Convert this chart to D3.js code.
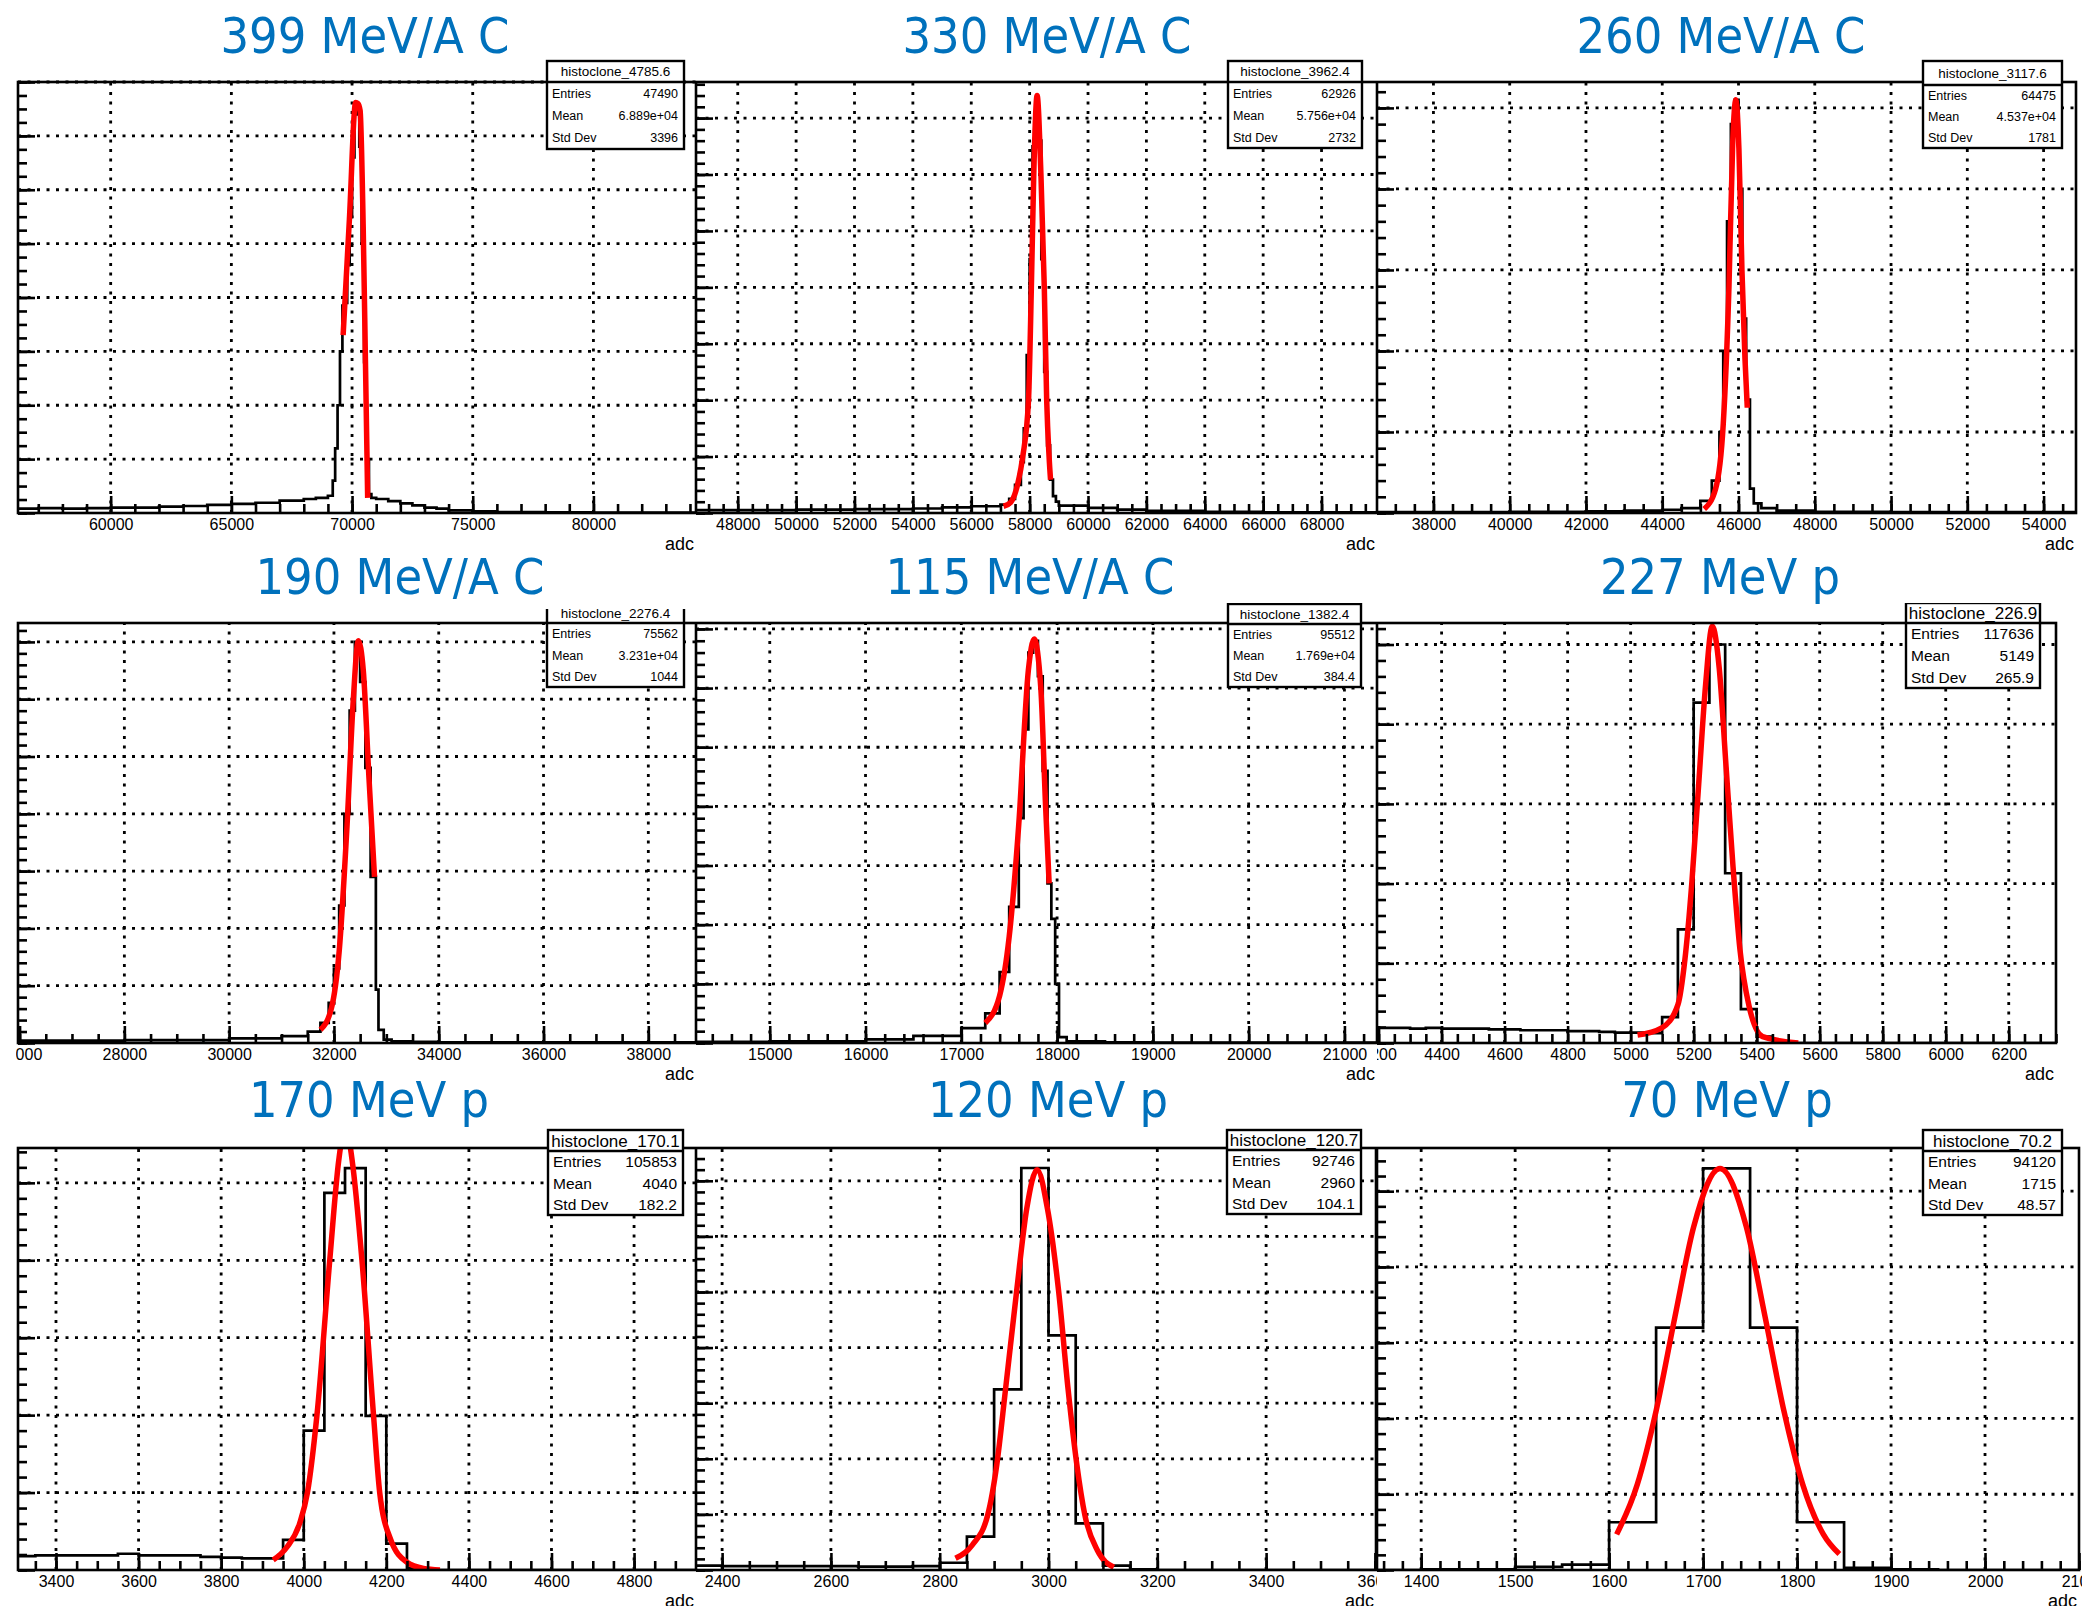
<!DOCTYPE html>
<html>
<head>
<meta charset="utf-8">
<script src="https://cdn.jsdelivr.net/npm/d3@7"></script>
<style>
  body { margin: 0; background: #fff; }
  svg { display: block; }
  .tick text { font-family: "Liberation Sans", Arial, sans-serif; }
</style>
</head>
<body>
<div id="chart"></div>
<script>
// ---------------- data ----------------
const panelTitles = ["399 MeV/A C", "330 MeV/A C", "260 MeV/A C",
                     "190 MeV/A C", "115 MeV/A C", "227 MeV p",
                     "170 MeV p", "120 MeV p", "70 MeV p"];
const statTitles = ["histoclone_4785.6", "histoclone_3962.4", "histoclone_3117.6",
                    "histoclone_2276.4", "histoclone_1382.4", "histoclone_226.9",
                    "histoclone_170.1", "histoclone_120.7", "histoclone_70.2"];
const statEntries = ["47490", "62926", "64475", "75562", "95512", "117636", "105853", "92746", "94120"];
const statMeans = ["6.889e+04", "5.756e+04", "4.537e+04", "3.231e+04", "1.769e+04", "5149", "4040", "2960", "1715"];
const statStdDevs = ["3396", "2732", "1781", "1044", "384.4", "265.9", "182.2", "104.1", "48.57"];

// x range (adc) and tick steps of every pad
const xDomains = [[56160, 84250], [46570, 69900], [36520, 54850],
                  [25970, 38910], [14230, 21340], [4195, 6350],
                  [3308, 4950], [2352, 3602], [1353, 2100]];
const xMajorSteps = [5000, 2000, 2000, 2000, 1000, 200, 200, 200, 100];
const xMinorDivs = [5, 4, 4, 4, 5, 4, 4, 4, 5];
// y range in grid units (y labels are cut off in the picture)
const yMaxUnits = [8.0, 7.64, 5.32, 7.33, 7.1, 5.27, 5.45, 7.59, 5.57];
const yMinorDivs = [4, 5, 5, 5, 5, 5, 5, 5, 5];

// histogram bin edges and contents
const histEdges = [
  [56160, 57000, 58000, 59000, 60000, 61000, 62000, 63000, 64000, 65000, 66000, 67000, 68000, 68500, 69000, 69200, 69300, 69400, 69500, 69600, 69700, 69800, 69900, 70000, 70100, 70200, 70300, 70400, 70500, 70600, 70700, 70800, 71000, 71500, 72000, 72500, 73000, 73500, 74000, 75000, 76000, 78000, 80000, 84250],
  [46570, 48000, 50000, 52000, 54000, 55000, 56000, 57000, 57300, 57500, 57700, 57800, 57900, 58000, 58100, 58200, 58300, 58400, 58500, 58600, 58700, 58800, 58900, 59000, 60000, 61000, 62000, 64000, 66000, 69900],
  [36520, 38000, 40000, 42000, 43000, 44000, 44500, 45000, 45300, 45500, 45600, 45700, 45800, 45900, 46000, 46100, 46200, 46300, 46400, 46600, 47000, 48000, 50000, 54850],
  [25970, 28000, 30000, 31000, 31500, 31742, 31900, 32000, 32100, 32200, 32300, 32400, 32500, 32600, 32700, 32800, 32850, 32950, 33100, 33500, 34000, 38910],
  [14230, 15000, 16000, 16500, 17000, 17250, 17400, 17500, 17600, 17650, 17700, 17750, 17800, 17850, 17900, 17940, 17980, 18020, 18100, 18500, 19000, 21340],
  [4195, 4250, 4300, 4350, 4400, 4450, 4500, 4550, 4600, 4650, 4700, 4750, 4800, 4850, 4900, 4950, 5000, 5050, 5100, 5150, 5200, 5250, 5300, 5350, 5400, 5450, 5500, 6350],
  [3308, 3350, 3400, 3450, 3500, 3550, 3600, 3650, 3700, 3750, 3800, 3850, 3900, 3950, 4000, 4050, 4100, 4150, 4200, 4250, 4300, 4950],
  [2352, 2400, 2450, 2500, 2550, 2600, 2650, 2700, 2750, 2800, 2850, 2900, 2950, 3000, 3050, 3100, 3150, 3200, 3602],
  [1353, 1400, 1450, 1500, 1550, 1600, 1650, 1700, 1750, 1800, 1850, 1900, 1950, 2100]
];
const histCounts = [
  [0.08, 0.09, 0.08, 0.09, 0.10, 0.10, 0.12, 0.13, 0.15, 0.17, 0.19, 0.23, 0.26, 0.28, 0.32, 0.6, 1.2, 2.0, 3.0, 3.85, 3.9, 4.6, 5.5, 6.6, 7.4, 7.5, 6.8, 5.0, 2.8, 1.0, 0.35, 0.28, 0.26, 0.22, 0.18, 0.14, 0.10, 0.08, 0.05, 0.03, 0.015, 0.01, 0.008],
  [0.05, 0.05, 0.06, 0.07, 0.08, 0.10, 0.12, 0.15, 0.25, 0.5, 0.9, 1.5, 2.8, 4.5, 6.5, 7.3, 6.6, 4.5, 2.5, 1.2, 0.59, 0.3, 0.2, 0.13, 0.09, 0.06, 0.04, 0.02, 0.01],
  [0.01, 0.01, 0.015, 0.02, 0.03, 0.04, 0.06, 0.15, 0.4, 1.0, 2.0, 3.6, 4.8, 5.1, 4.0, 2.4, 1.4, 0.3, 0.12, 0.06, 0.03, 0.015, 0.01],
  [0.04, 0.05, 0.08, 0.12, 0.2, 0.35, 0.7, 1.3, 2.4, 4.0, 5.8, 7.0, 6.3, 4.8, 2.9, 0.93, 0.23, 0.06, 0.03, 0.02, 0.01],
  [0.02, 0.03, 0.06, 0.12, 0.25, 0.5, 1.2, 2.3, 3.8, 5.3, 6.6, 6.8, 6.2, 4.6, 2.7, 2.1, 1.0, 0.1, 0.03, 0.01, 0.005],
  [0.19, 0.19, 0.18, 0.19, 0.18, 0.18, 0.18, 0.17, 0.17, 0.16, 0.16, 0.16, 0.15, 0.15, 0.14, 0.13, 0.13, 0.125, 0.325, 1.425, 4.27, 5.0, 2.13, 0.425, 0.08, 0.005, 0],
  [0.18, 0.19, 0.19, 0.19, 0.19, 0.21, 0.19, 0.19, 0.19, 0.17, 0.16, 0.15, 0.15, 0.39, 1.8, 4.87, 5.19, 1.99, 0.34, 0.02, 0],
  [0.08, 0.07, 0.07, 0.07, 0.07, 0.07, 0.06, 0.06, 0.07, 0.13, 0.6, 3.25, 7.23, 4.22, 0.84, 0.08, 0.01, 0],
  [0.0, 0.01, 0.01, 0.04, 0.07, 0.63, 3.2, 5.3, 3.2, 0.63, 0.03, 0.01, 0]
];

// red fit curves
const fitX = [
  [69630, 69890, 70150, 70240, 70333, 70462, 70554, 70647],
  [57106, 57352, 57598, 57764, 57961, 58059, 58141, 58256, 58387, 58502, 58584, 58666, 58716],
  [45100, 45400, 45600, 45750, 45850, 45930, 46010, 46090, 46170, 46230],
  [31742, 31950, 32100, 32250, 32370, 32465, 32560, 32670, 32774],
  [17250, 17400, 17500, 17600, 17700, 17760, 17830, 17880, 17917],
  [5022, 5099, 5150, 5172, 5194, 5216, 5238, 5259, 5281, 5303, 5325, 5347, 5376, 5419, 5532],
  [3926, 3960, 3990, 4009, 4032, 4063, 4085, 4101, 4117, 4141, 4169, 4184, 4210, 4250, 4290, 4330],
  [2829, 2860, 2888, 2905, 2921, 2941, 2960, 2979, 2998, 3019, 3036, 3052, 3067, 3090, 3120],
  [1608, 1630, 1650, 1670, 1690, 1718, 1746, 1766, 1786, 1806, 1828, 1845]
];
const fitY = [
  [3.3, 5.45, 7.62, 7.6, 7.47, 5.31, 2.84, 0.28],
  [0.12, 0.19, 0.53, 1.0, 2.0, 4.0, 6.0, 7.4, 6.0, 4.0, 2.0, 1.0, 0.59],
  [0.05, 0.3, 1.1, 2.8, 4.6, 5.1, 4.5, 3.0, 1.9, 1.3],
  [0.23, 0.6, 1.6, 3.8, 6.0, 7.02, 6.5, 4.6, 2.9],
  [0.34, 0.8, 1.8, 3.7, 6.3, 6.83, 6.0, 4.0, 2.7],
  [0.1, 0.19, 0.48, 1.04, 2.0, 3.25, 4.5, 5.23, 4.71, 3.46, 2.21, 1.17, 0.46, 0.08, 0.0],
  [0.13, 0.3, 0.6, 1.0, 2.0, 4.0, 5.3, 5.75, 5.3, 4.0, 2.0, 1.0, 0.4, 0.1, 0.02, 0.0],
  [0.21, 0.45, 0.98, 1.9, 3.25, 4.98, 6.5, 7.2, 6.5, 4.98, 3.25, 1.9, 0.98, 0.35, 0.05],
  [0.47, 1.13, 2.1, 3.34, 4.53, 5.3, 4.53, 3.34, 2.1, 1.13, 0.47, 0.21]
];

// ---------------- layout ----------------
const W = 2082, H = 1606;
const cellClips = [
  [16, 58, 696, 562], [696, 58, 1377, 562], [1377, 58, 2082, 562],
  [16, 609, 696, 1090], [696, 603, 1377, 1090], [1377, 603, 2082, 1090],
  [16, 1128, 696, 1606], [696, 1128, 1377, 1606], [1377, 1128, 2082, 1606]
];
const frameX = [[18, 696], [696, 1377], [1377, 2076],
                [18, 696], [696, 1377], [1377, 2056],
                [18, 696], [696, 1376], [1377, 2079]];
const frameY = [[82, 513], [623, 1043], [1148, 1570]];
const titleCX = [365, 1047, 1721, 400, 1030, 1720, 369, 1048, 1727];
const titleBaseY = [53, 594, 1117];
const statBoxes = [
  [547, 61, 684, 149, 82], [1228, 61, 1362, 148, 82], [1923, 61, 2062, 148, 85],
  [547, 603, 684, 687, 623], [1228, 604, 1361, 687, 624], [1906, 603, 2040, 688, 623],
  [548, 1130, 683, 1215, 1151], [1227, 1130, 1361, 1214, 1150], [1923, 1130, 2062, 1215, 1151]
];
const titleColor = "#0071bc";
const fitColor = "#ff0000";

const svg = d3.select("#chart").append("svg")
    .attr("width", W)
    .attr("height", H)
    .style("background", "#fff");
const defs = svg.append("defs");

panelTitles.forEach((title, i) => {
    const row = Math.floor(i / 3);
    const [cx0, cy0, cx1, cy1] = cellClips[i];
    const [fx0, fx1] = frameX[i];
    const [fy0, fy1] = frameY[row];
    const fw = fx1 - fx0, fh = fy1 - fy0;

    defs.append("clipPath").attr("id", "cell" + i)
        .append("rect").attr("x", cx0).attr("y", cy0).attr("width", cx1 - cx0).attr("height", cy1 - cy0);
    defs.append("clipPath").attr("id", "frame" + i)
        .append("rect").attr("x", fx0).attr("y", fy0).attr("width", fw).attr("height", fh);

    const x = d3.scaleLinear().domain(xDomains[i]).range([fx0, fx1]);
    const y = d3.scaleLinear().domain([0, yMaxUnits[i]]).range([fy1, fy0]);

    const xStep = xMajorSteps[i];
    const xMajors = d3.range(Math.ceil(xDomains[i][0] / xStep) * xStep, xDomains[i][1] + 1e-6, xStep);
    const xMinStep = xStep / xMinorDivs[i];
    const xMinors = d3.range(Math.ceil(xDomains[i][0] / xMinStep) * xMinStep, xDomains[i][1] + 1e-6, xMinStep);
    const yMajors = d3.range(0, yMaxUnits[i] + 1e-6, 1);
    const yMinors = d3.range(0, yMaxUnits[i] + 1e-6, 1 / yMinorDivs[i]);

    const g = svg.append("g").attr("clip-path", `url(#cell${i})`);

    // dotted grid
    const grid = g.append("g").attr("class", "grid");
    grid.selectAll(".gx").data(xMajors.filter(v => x(v) > fx0 + 2 && x(v) < fx1 - 2)).enter()
        .append("line")
        .attr("x1", d => x(d)).attr("x2", d => x(d))
        .attr("y1", fy1).attr("y2", fy0);
    grid.selectAll(".gy").data(yMajors.filter(v => v > 0)).enter()
        .append("line")
        .attr("x1", fx0).attr("x2", fx1)
        .attr("y1", d => y(d)).attr("y2", d => y(d));
    grid.selectAll("line")
        .attr("stroke", "#000")
        .attr("stroke-width", 2.8)
        .attr("stroke-dasharray", "3,6.5");

    // histogram
    const pts = histEdges[i].map((e, k) => [e, histCounts[i][Math.min(k, histCounts[i].length - 1)]]);
    const histLine = d3.line()
        .x(d => x(d[0]))
        .y(d => y(d[1]))
        .curve(d3.curveStepAfter);
    g.append("path")
        .attr("clip-path", `url(#frame${i})`)
        .attr("d", histLine(pts))
        .attr("fill", "none")
        .attr("stroke", "#000")
        .attr("stroke-width", 2.7);

    // fit
    const fitPts = fitX[i].map((v, k) => [v, fitY[i][k]]);
    const fitLine = d3.line()
        .x(d => x(d[0]))
        .y(d => y(d[1]))
        .curve(d3.curveMonotoneX);
    g.append("path")
        .attr("clip-path", `url(#frame${i})`)
        .attr("d", fitLine(fitPts))
        .attr("fill", "none")
        .attr("stroke", fitColor)
        .attr("stroke-width", 5.5)
        .attr("stroke-linejoin", "round");

    // frame
    g.append("rect")
        .attr("x", fx0).attr("y", fy0)
        .attr("width", fw).attr("height", fh)
        .attr("fill", "none")
        .attr("stroke", "#000")
        .attr("stroke-width", 2.6);

    // x axis: labelled major ticks + minor ticks, pointing inward
    const xAxis = g.append("g").attr("transform", `translate(0,${fy1})`)
        .call(d3.axisBottom(x).tickValues(xMajors).tickSizeInner(-17).tickSizeOuter(0)
            .tickPadding(6).tickFormat(d3.format("d")));
    xAxis.selectAll("text").attr("font-size", 16).attr("fill", "#000");
    g.append("g").attr("transform", `translate(0,${fy1})`)
        .call(d3.axisBottom(x).tickValues(xMinors).tickSizeInner(-9).tickSizeOuter(0).tickFormat(""));

    // y axis ticks only (labels are hidden by the neighbouring pad)
    g.append("g").attr("transform", `translate(${fx0},0)`)
        .call(d3.axisLeft(y).tickValues(yMajors).tickSizeInner(-17).tickSizeOuter(0).tickFormat(""));
    g.append("g").attr("transform", `translate(${fx0},0)`)
        .call(d3.axisLeft(y).tickValues(yMinors).tickSizeInner(-9).tickSizeOuter(0).tickFormat(""));

    g.selectAll(".domain").remove();
    g.selectAll(".tick line").attr("stroke", "#000").attr("stroke-width", 2.6);

    g.append("text")
        .attr("x", fx1 - 2)
        .attr("y", fy1 + 37)
        .attr("text-anchor", "end")
        .attr("font-family", "Liberation Sans, Arial, sans-serif")
        .attr("font-size", 18)
        .text("adc");

    // stats box
    const [bx0, by0, bx1, by1, sep] = statBoxes[i];
    const big = i >= 5;
    const sb = g.append("g").attr("font-family", "Liberation Sans, Arial, sans-serif");
    sb.append("rect")
        .attr("x", bx0).attr("y", by0)
        .attr("width", bx1 - bx0).attr("height", by1 - by0)
        .attr("fill", "#fff")
        .attr("stroke", "#000")
        .attr("stroke-width", 2.4);
    sb.append("line")
        .attr("x1", bx0).attr("x2", bx1)
        .attr("y1", sep).attr("y2", sep)
        .attr("stroke", "#000")
        .attr("stroke-width", 2.4);
    sb.append("text")
        .attr("x", (bx0 + bx1) / 2)
        .attr("y", (by0 + sep) / 2)
        .attr("dy", "0.36em")
        .attr("text-anchor", "middle")
        .attr("font-size", big ? 17 : 13.5)
        .text(statTitles[i]);
    const rows = [["Entries", statEntries[i]], ["Mean", statMeans[i]], ["Std Dev", statStdDevs[i]]];
    const rh = (by1 - sep) / 3;
    rows.forEach(([k, v], r) => {
        const ty = sep + (r + 0.5) * rh;
        sb.append("text").attr("x", bx0 + 5).attr("y", ty).attr("dy", "0.36em")
            .attr("font-size", big ? 15.5 : 12.5).text(k);
        sb.append("text").attr("x", bx1 - 6).attr("y", ty).attr("dy", "0.36em")
            .attr("text-anchor", "end")
            .attr("font-size", big ? 15.5 : 12.5).text(v);
    });

    // pad title
    svg.append("text")
        .attr("x", titleCX[i])
        .attr("y", titleBaseY[row])
        .attr("text-anchor", "middle")
        .attr("font-family", "DejaVu Sans Condensed, DejaVu Sans, sans-serif")
        .attr("font-stretch", "condensed")
        .attr("font-size", 50)
        .attr("fill", titleColor)
        .text(title);
});
</script>
</body>
</html>
